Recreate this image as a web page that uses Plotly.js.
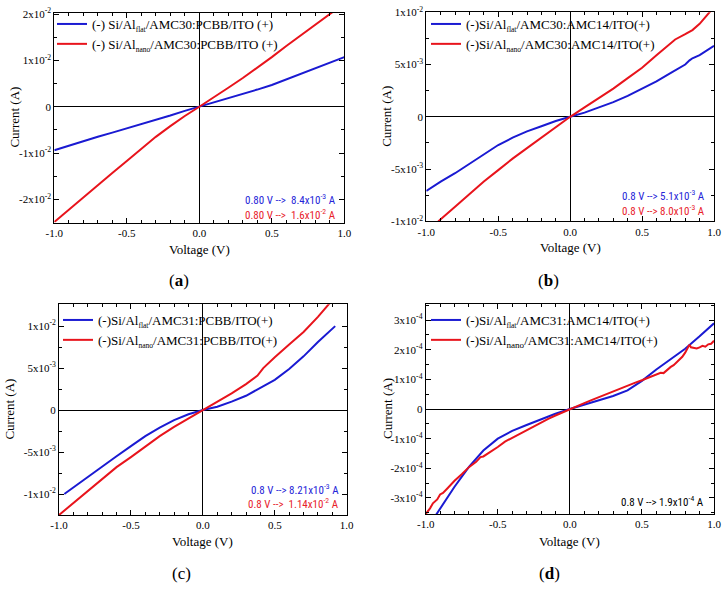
<!DOCTYPE html>
<html>
<head>
<meta charset="utf-8">
<script src="https://cdn.plot.ly/plotly-3.0.1.min.js"></script>
<style>html,body{margin:0;padding:0;background:#fff;}#chart{width:726px;height:589px;}</style>
</head>
<body>
<div id="chart"></div>
<script>
// ---- Data ----
// Panel (a)
const vA = [-1.0,-0.9,-0.8,-0.7,-0.6,-0.5,-0.4,-0.3,-0.2,-0.1,0,0.1,0.2,0.3,0.4,0.5,0.6,0.7,0.8,0.9,1.0];
const iA_flat = [-0.0094,-0.0084,-0.0074,-0.0065,-0.0056,-0.0047,-0.0038,-0.0028,-0.0019,-0.0009,0,0.0009,0.0018,0.0027,0.0037,0.0047,0.0059,0.0071,0.0084,0.0095,0.0107];
const iA_nano = [-0.0249,-0.0222,-0.0195,-0.0169,-0.0143,-0.0117,-0.0090,-0.0065,-0.0042,-0.0020,0,0.0020,0.0041,0.0062,0.0084,0.0107,0.0131,0.0154,0.0177,0.0200,0.0223];
// Panel (b)
const vB_flat = [-1.0,-0.9,-0.8,-0.7,-0.6,-0.5,-0.4,-0.3,-0.2,-0.1,0,0.1,0.2,0.3,0.4,0.5,0.6,0.7,0.8,0.83,0.85,0.9,1.0];
const iB_flat = [-0.0071,-0.0062,-0.0054,-0.0045,-0.0036,-0.0027,-0.0020,-0.0014,-0.0009,-0.0004,0,0.0004,0.0009,0.0014,0.0020,0.0027,0.0034,0.0042,0.0050,0.0054,0.0056,0.0059,0.0068];
const vB_nano = [-1.0,-0.9,-0.8,-0.7,-0.6,-0.5,-0.4,-0.3,-0.2,-0.1,0,0.1,0.2,0.3,0.4,0.5,0.6,0.7,0.73,0.8,0.85,0.9,0.97,1.0];
const iB_nano = [-0.0111,-0.0098,-0.0086,-0.0074,-0.0062,-0.0051,-0.0040,-0.0030,-0.0020,-0.0010,0,0.0009,0.0018,0.0027,0.0037,0.0047,0.0059,0.0071,0.0074,0.0079,0.0083,0.0089,0.0100,0.0105];
// Panel (c)
const vC_flat = [-0.963,-0.9,-0.8,-0.7,-0.6,-0.5,-0.4,-0.3,-0.2,-0.1,0,0.1,0.2,0.3,0.4,0.5,0.6,0.7,0.8,0.9,0.92];
const iC_flat = [-0.0100,-0.0092,-0.0080,-0.0067,-0.0055,-0.0043,-0.0031,-0.0021,-0.0012,-0.0005,0,0.0004,0.0010,0.0017,0.0026,0.0036,0.0049,0.0064,0.0081,0.0097,0.0100];
const vC_nano = [-1.0,-0.9,-0.8,-0.7,-0.6,-0.5,-0.4,-0.3,-0.2,-0.1,0,0.1,0.2,0.3,0.38,0.42,0.5,0.6,0.7,0.8,0.87,0.9];
const iC_nano = [-0.0125,-0.0111,-0.0096,-0.0082,-0.0068,-0.0056,-0.0043,-0.0031,-0.0020,-0.0010,0,0.0009,0.0020,0.0031,0.0041,0.0050,0.0063,0.0078,0.0093,0.0111,0.0125,0.0131];
// Panel (d)
const vD_flat = [-1.0,-0.9,-0.8,-0.7,-0.6,-0.5,-0.4,-0.3,-0.2,-0.1,0,0.1,0.2,0.3,0.4,0.5,0.6,0.7,0.8,0.9,1.0];
const iD_flat = [-4.1e-4,-3.38e-4,-2.62e-4,-1.95e-4,-1.40e-4,-1.0e-4,-0.74e-4,-0.54e-4,-0.34e-4,-0.16e-4,0,0.14e-4,0.28e-4,0.44e-4,0.63e-4,0.95e-4,1.33e-4,1.68e-4,2.03e-4,2.45e-4,2.89e-4];
const vD_nano = [-1.0,-0.97,-0.95,-0.92,-0.9,-0.88,-0.85,-0.8,-0.75,-0.7,-0.65,-0.62,-0.6,-0.55,-0.5,-0.45,-0.4,-0.35,-0.3,-0.25,-0.2,-0.15,-0.1,-0.05,0,0.05,0.1,0.15,0.2,0.25,0.3,0.35,0.4,0.45,0.5,0.55,0.6,0.63,0.65,0.67,0.7,0.72,0.75,0.78,0.8,0.83,0.84,0.86,0.88,0.9,0.92,0.94,0.96,0.98,1.0];
const iD_nano = [-3.54e-4,-3.35e-4,-3.18e-4,-3.05e-4,-2.88e-4,-2.83e-4,-2.68e-4,-2.42e-4,-2.20e-4,-1.96e-4,-1.78e-4,-1.62e-4,-1.60e-4,-1.45e-4,-1.28e-4,-1.10e-4,-0.97e-4,-0.83e-4,-0.70e-4,-0.57e-4,-0.45e-4,-0.33e-4,-0.22e-4,-0.11e-4,0,0.10e-4,0.20e-4,0.30e-4,0.40e-4,0.50e-4,0.60e-4,0.70e-4,0.79e-4,0.88e-4,0.97e-4,1.07e-4,1.17e-4,1.22e-4,1.21e-4,1.30e-4,1.42e-4,1.48e-4,1.62e-4,1.76e-4,1.90e-4,2.17e-4,2.08e-4,2.06e-4,2.04e-4,2.08e-4,2.13e-4,2.10e-4,2.18e-4,2.20e-4,2.30e-4];

// Tick labels
const xTickVals = [-1.0,-0.5,0,0.5,1.0];
const xTickText = ["-1.0","-0.5","0.0","0.5","1.0"];
const yTickValsA = [-0.02,-0.01,0,0.01,0.02];
const yTickTextA = ["-2x10<sup>-2</sup>","-1x10<sup>-2</sup>","0","1x10<sup>-2</sup>","2x10<sup>-2</sup>"];
const yTickValsB = [-0.01,-0.005,0,0.005,0.01];
const yTickTextB = ["-1x10<sup>-2</sup>","-5x10<sup>-3</sup>","0","5x10<sup>-3</sup>","1x10<sup>-2</sup>"];
const yTickValsC = [-0.01,-0.005,0,0.005,0.01];
const yTickTextC = ["-1x10<sup>-2</sup>","-5x10<sup>-3</sup>","0","5x10<sup>-3</sup>","1x10<sup>-2</sup>"];
const yTickValsD = [-3e-4,-2e-4,-1e-4,0,1e-4,2e-4,3e-4];
const yTickTextD = ["-3x10<sup>-4</sup>","-2x10<sup>-4</sup>","-1x10<sup>-4</sup>","0","1x10<sup>-4</sup>","2x10<sup>-4</sup>","3x10<sup>-4</sup>"];

// Legend labels
const SMALL = "<span style='font-size:7.5px'>";
const labA = ["(-) Si/Al<sub>" + SMALL + "flat</span></sub>/AMC30:PCBB/ITO (+)","(-) Si/Al<sub>" + SMALL + "nano</span></sub>/AMC30:PCBB/ITO (+)"];
const labB = ["(-)Si/Al<sub>" + SMALL + "flat</span></sub>/AMC30:AMC14/ITO(+)","(-)Si/Al<sub>" + SMALL + "nano</span></sub>/AMC30:AMC14/ITO(+)"];
const labC = ["(-)Si/Al<sub>" + SMALL + "flat</span></sub>/AMC31:PCBB/ITO(+)","(-)Si/Al<sub>" + SMALL + "nano</span></sub>/AMC31:PCBB/ITO(+)"];
const labD = ["(-)Si/Al<sub>" + SMALL + "flat</span></sub>/AMC31:AMC14/ITO(+)","(-)Si/Al<sub>nano</sub>/AMC31:AMC14/ITO(+)"];

// ---- Styling ----
const W = 726, H = 589;
const BLUE = '#1a1ad2', RED = '#e8141c';
const SERIF = 'Liberation Serif, Times New Roman, serif';
const SANS = 'Liberation Sans Narrow, Roboto Condensed, Roboto, Arial, sans-serif';
const px = x => x / W;
const py = y => 1 - y / H;

function tr(x, y, name, color, n, leg) {
  return {x: x, y: y, name: name, type: 'scatter', mode: 'lines',
    line: {color: color, width: 2}, xaxis: 'x' + (n === 1 ? '' : n), yaxis: 'y' + (n === 1 ? '' : n),
    legend: leg};
}
const data = [
  tr(vA, iA_flat, labA[0], BLUE, 1, 'legend'),
  tr(vA, iA_nano, labA[1], RED, 1, 'legend'),
  tr(vB_flat, iB_flat, labB[0], BLUE, 2, 'legend2'),
  tr(vB_nano, iB_nano, labB[1], RED, 2, 'legend2'),
  tr(vC_flat, iC_flat, labC[0], BLUE, 3, 'legend3'),
  tr(vC_nano, iC_nano, labC[1], RED, 3, 'legend3'),
  tr(vD_flat, iD_flat, labD[0], BLUE, 4, 'legend4'),
  tr(vD_nano, iD_nano, labD[1], RED, 4, 'legend4')
];

function xax(d0, d1, anchor) {
  return {domain: [px(d0), px(d1)], anchor: anchor, range: [-1, 1],
    tickvals: xTickVals, ticktext: xTickText, ticks: 'inside', ticklen: 5, tickcolor: '#000',
    minor: {dtick: 0.1, tick0: 0, ticks: 'inside', ticklen: 3, tickcolor: '#000'},
    showline: true, linecolor: '#000', linewidth: 1, mirror: 'ticks',
    showgrid: false, zeroline: true, zerolinecolor: '#000', zerolinewidth: 1,
    tickfont: {family: SERIF, size: 11, color: '#000'}, fixedrange: true};
}
function yax(d0, d1, anchor, range, tv, tt, mdt) {
  return {domain: [py(d1), py(d0)], anchor: anchor, range: range,
    tickvals: tv, ticktext: tt, ticks: 'inside', ticklen: 5, tickcolor: '#000',
    minor: {dtick: mdt, tick0: 0, ticks: 'inside', ticklen: 3, tickcolor: '#000'},
    showline: true, linecolor: '#000', linewidth: 1, mirror: 'ticks',
    showgrid: false, zeroline: true, zerolinecolor: '#000', zerolinewidth: 1,
    tickfont: {family: SERIF, size: 11, color: '#000'}, fixedrange: true};
}
function leg(x, y) {
  return {x: px(x), y: py(y), xanchor: 'left', yanchor: 'top', bgcolor: 'rgba(0,0,0,0)',
    borderwidth: 0, font: {family: SERIF, size: 13, color: '#000'}, itemwidth: 30, tracegroupgap: 0};
}
function txt(x, y, t, opts) {
  return Object.assign({xref: 'paper', yref: 'paper', x: px(x), y: py(y), text: t, showarrow: false,
    xanchor: 'center', yanchor: 'middle', font: {family: SERIF, size: 13, color: '#000'}}, opts || {});
}
function note(x, y, t, color) {
  return txt(x, y, t, {xanchor: 'right', font: {family: SANS, size: 11, color: color}});
}

const layout = {
  width: W, height: H, margin: {l: 0, r: 0, t: 0, b: 0},
  paper_bgcolor: '#fff', plot_bgcolor: '#fff', showlegend: true,
  xaxis: xax(54.3, 344.3, 'y'),
  yaxis: yax(12.7, 222.5, 'x', [-0.025, 0.0203], yTickValsA, yTickTextA, 0.005),
  xaxis2: xax(426.3, 714, 'y2'),
  yaxis2: yax(12.3, 221.3, 'x2', [-0.01, 0.01], yTickValsB, yTickTextB, 0.0025),
  xaxis3: xax(59, 346.7, 'y3'),
  yaxis3: yax(304.3, 515, 'x3', [-0.0125, 0.0126], yTickValsC, yTickTextC, 0.0025),
  xaxis4: xax(425.7, 714, 'y4'),
  yaxis4: yax(304, 514, 'x4', [-3.54e-4, 3.54e-4], yTickValsD, yTickTextD, 0.5e-4),
  legend: leg(52, 9),
  legend2: leg(426, 9),
  legend3: leg(58, 305),
  legend4: leg(426, 305),
  annotations: [
    // axis titles
    txt(15, 117.6, 'Current (A)', {textangle: -90}),
    txt(199.3, 249.3, 'Voltage (V)'),
    txt(387, 116.8, 'Current (A)', {textangle: -90}),
    txt(570, 247.7, 'Voltage (V)'),
    txt(10, 409.6, 'Current (A)', {textangle: -90}),
    txt(202.8, 541.7, 'Voltage (V)'),
    txt(387, 409, 'Current (A)', {textangle: -90}),
    txt(569.8, 541.7, 'Voltage (V)'),
    // panel labels
    txt(179, 281, '(<b>a</b>)', {font: {family: SERIF, size: 17, color: '#000'}}),
    txt(548, 280, '(<b>b</b>)', {font: {family: SERIF, size: 17, color: '#000'}}),
    txt(181.7, 573, '(c)', {font: {family: SERIF, size: 17, color: '#000'}}),
    txt(549, 573, '(<b>d</b>)', {font: {family: SERIF, size: 17, color: '#000'}}),
    // value notes
    note(338, 199.7, '0.80 V -->  8.4x10<sup>-3</sup> A', '#2424d8'),
    note(338, 214.3, '0.80 V -->  1.6x10<sup>-2</sup> A', '#e8202a'),
    note(707, 195.7, '0.8 V --> 5.1x10<sup>-3</sup> A', '#2424d8'),
    note(707, 210, '0.8 V --> 8.0x10<sup>-3</sup> A', '#e8202a'),
    note(341, 489.3, '0.8 V --> 8.21x10<sup>-3</sup> A', '#2424d8'),
    note(341, 503.3, '0.8 V -->  1.14x10<sup>-2</sup> A', '#e8202a'),
    note(706, 501.7, '0.8 V --> 1.9x10<sup>-4</sup> A', '#000')
  ]
};

Plotly.newPlot('chart', data, layout, {displayModeBar: false, staticPlot: true});
</script>
</body>
</html>
